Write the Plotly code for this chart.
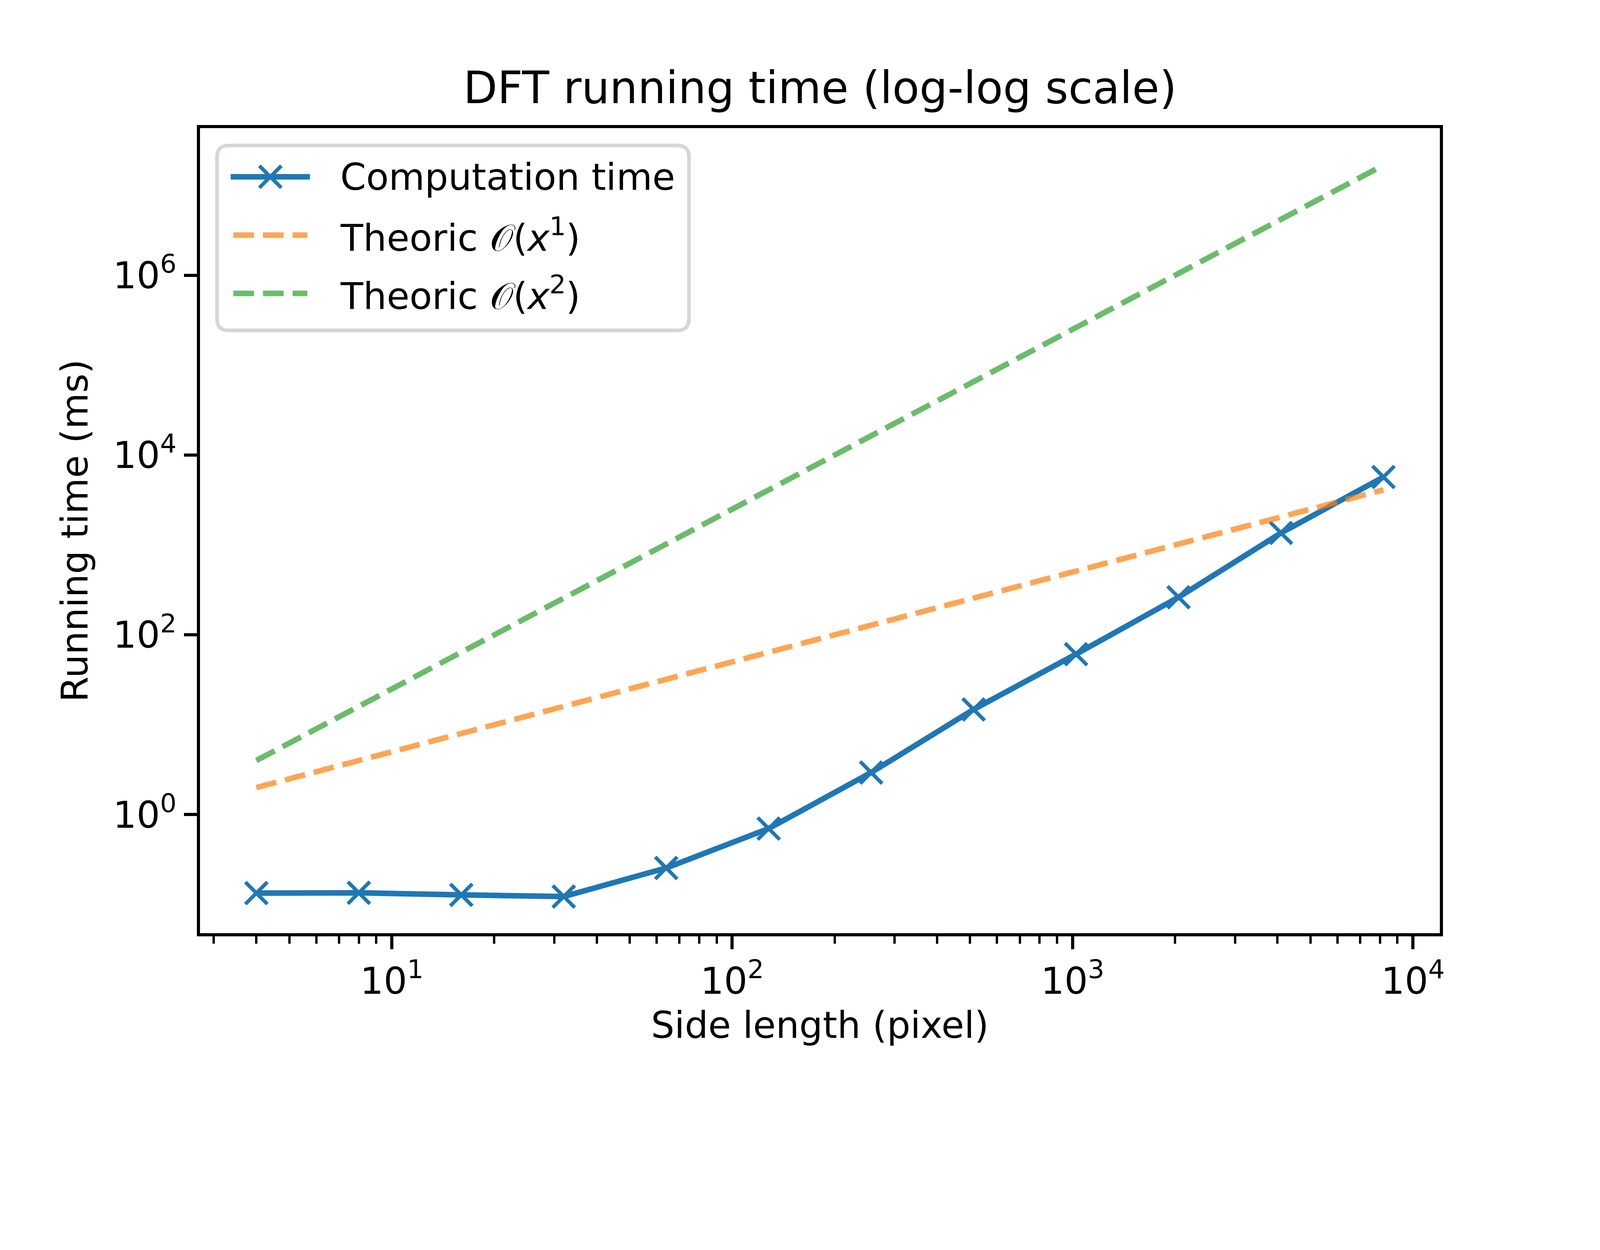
import plotly.graph_objects as go

# ---- data ----
side_length = [4, 8, 16, 32, 64, 128, 256, 512, 1024, 2048, 4096, 8192]
computation_ms = [0.134, 0.135, 0.128, 0.1227, 0.255, 0.70, 2.94, 14.8, 61.0, 262, 1360, 5700]
theoric_o1 = [2, 4, 8, 16, 32, 64, 128, 256, 512, 1024, 2048, 4096]
theoric_o2 = [4, 16, 64, 256, 1024, 4096, 16384, 65536, 262144, 1048576, 4194304, 16777216]

series_names = ["Computation time", "Theoric 𝒪(<i>x</i><sup>1</sup>)", "Theoric 𝒪(<i>x</i><sup>2</sup>)"]
x_tick_vals = [10, 100, 1000, 10000]
x_tick_text = ["10<sup>1</sup>", "10<sup>2</sup>", "10<sup>3</sup>", "10<sup>4</sup>"]
y_tick_vals = [1, 100, 10000, 1000000]
y_tick_text = ["10<sup>0</sup>", "10<sup>2</sup>", "10<sup>4</sup>", "10<sup>6</sup>"]

title_text = "DFT running time (log-log scale)"
x_label = "Side length (pixel)"
y_label = "Running time (ms)"

# ---- geometry: reference measured in 4800x3200 screenshot pixels ----
S = 4800 / 4096          # screenshot px per CSS px
OFF = 8                  # page body margin (CSS px)
W = 4096 - 2 * OFF
H = round(3200 / S) - 2 * OFF


def sz(v):
    return v / S


def cx(x):
    return x / S - OFF


def cy(y):
    return y / S - OFF


PL, PR, PT, PB = cx(600), cx(4320), cy(384), cy(2800)
PW, PH = PR - PL, PB - PT


def pxp(x):   # plot-area paper coordinate
    return (cx(x) - PL) / PW


def pyp(y):
    return 1 - (cy(y) - PT) / PH


FONT = "DejaVu Sans"
BLUE = "#1f77b4"
ORANGE = "#ff7f0e"
GREEN = "#2ca02c"
LW = sz(16.7)
DASH = f"{sz(62):.1f}px,{sz(27):.1f}px"
FS = sz(111)

fig = go.Figure()
fig.add_trace(go.Scatter(x=side_length, y=computation_ms, mode="lines+markers",
                         name=series_names[0],
                         line=dict(color=BLUE, width=LW),
                         marker=dict(symbol="x-thin", size=sz(66), color=BLUE,
                                     line=dict(color=BLUE, width=sz(11)))))
fig.add_trace(go.Scatter(x=side_length, y=theoric_o1, mode="lines", name=series_names[1],
                         opacity=0.7, line=dict(color=ORANGE, width=LW, dash=DASH)))
fig.add_trace(go.Scatter(x=side_length, y=theoric_o2, mode="lines", name=series_names[2],
                         opacity=0.7, line=dict(color=GREEN, width=LW, dash=DASH)))

minor_x = [m * 10 ** d for d in range(0, 4) for m in range(2, 10)]

axis_common = dict(ticks="outside", ticklen=sz(39), tickwidth=sz(9), tickcolor="black",
                   showline=True, linewidth=sz(9), linecolor="black", mirror=True,
                   showgrid=False, zeroline=False,
                   tickfont=dict(family=FONT, size=FS, color="black"))

fig.update_xaxes(type="log", range=[0.4365, 4.079],
                 tickvals=x_tick_vals, ticktext=x_tick_text,
                 minor=dict(tickvals=minor_x, ticks="outside", ticklen=sz(22), tickwidth=sz(7),
                            tickcolor="black", showgrid=False),
                 title=dict(text=x_label, font=dict(family=FONT, size=FS, color="black"),
                            standoff=sz(34)),
                 **axis_common)
fig.update_yaxes(type="log", range=[-1.319, 7.637],
                 tickvals=y_tick_vals, ticktext=y_tick_text,
                 title=dict(text=y_label, font=dict(family=FONT, size=FS, color="black"),
                            standoff=sz(42)),
                 **axis_common)

# ---- legend drawn as a framed box ----
shapes = []
x0, x1, y0, y1, r = 651, 2067, 436, 991, 35
rx, ry = sz(r) / PW, sz(r) / PH
X0, X1, Y0, Y1 = pxp(x0), pxp(x1), pyp(y0), pyp(y1)
path = (f"M{X0 + rx},{Y0} L{X1 - rx},{Y0} Q{X1},{Y0} {X1},{Y0 - ry} "
        f"L{X1},{Y1 + ry} Q{X1},{Y1} {X1 - rx},{Y1} "
        f"L{X0 + rx},{Y1} Q{X0},{Y1} {X0},{Y1 + ry} "
        f"L{X0},{Y0 - ry} Q{X0},{Y0} {X0 + rx},{Y0} Z")
shapes.append(dict(type="path", xref="paper", yref="paper", path=path,
                   line=dict(color="#d6d6d6", width=sz(11)), fillcolor="white", layer="above"))

rows = [530, 705, 880]
hx0, hx1 = 700, 922
shapes.append(dict(type="line", xref="paper", yref="paper", x0=pxp(hx0 - 8), x1=pxp(hx1 + 8),
                   y0=pyp(rows[0]), y1=pyp(rows[0]), line=dict(color=BLUE, width=LW), layer="above"))
mc, ms = (hx0 + hx1) / 2, 33
shapes.append(dict(type="line", xref="paper", yref="paper", x0=pxp(mc - ms), x1=pxp(mc + ms),
                   y0=pyp(rows[0] - ms), y1=pyp(rows[0] + ms),
                   line=dict(color=BLUE, width=sz(11)), layer="above"))
shapes.append(dict(type="line", xref="paper", yref="paper", x0=pxp(mc - ms), x1=pxp(mc + ms),
                   y0=pyp(rows[0] + ms), y1=pyp(rows[0] - ms),
                   line=dict(color=BLUE, width=sz(11)), layer="above"))
for row, col in ((rows[1], ORANGE), (rows[2], GREEN)):
    shapes.append(dict(type="line", xref="paper", yref="paper", x0=pxp(hx0), x1=pxp(hx1),
                       y0=pyp(row), y1=pyp(row), opacity=0.7,
                       line=dict(color=col, width=LW, dash=DASH), layer="above"))

annotations = []
for row, name in zip(rows, series_names):
    annotations.append(dict(xref="paper", yref="paper", x=pxp(1018), y=pyp(row),
                            xanchor="left", yanchor="middle", showarrow=False, text=name,
                            font=dict(family=FONT, size=FS, color="black")))

fig.update_layout(
    width=W, height=H,
    margin=dict(l=PL, r=W - PR, t=PT, b=H - PB, pad=0),
    paper_bgcolor="white", plot_bgcolor="white",
    showlegend=False,
    title=dict(text=title_text, x=cx(2460) / W, xanchor="center",
               xref="container", y=1 - cy(309) / H, yref="container", yanchor="bottom",
               font=dict(family=FONT, size=sz(133), color="black")),
    shapes=shapes, annotations=annotations,
    font=dict(family=FONT, color="black"),
)

fig.write_html("out.html")
